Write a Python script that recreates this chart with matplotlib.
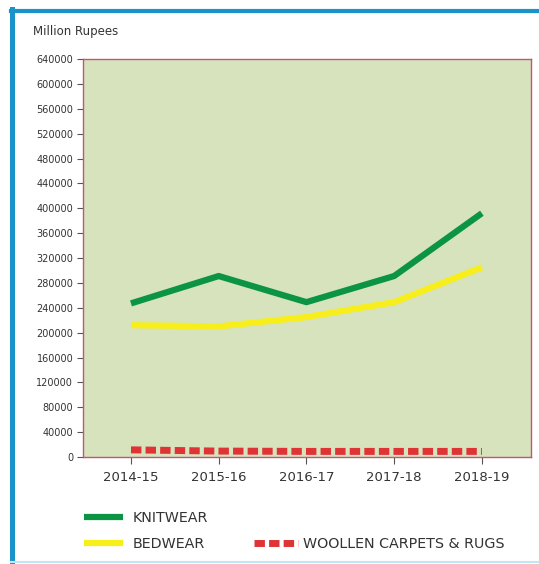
import matplotlib

matplotlib.use("Agg")
import matplotlib.pyplot as plt
from matplotlib.lines import Line2D

plt.rcParams["font.family"] = ["DejaVu Sans"]

years = ["2014-15", "2015-16", "2016-17", "2017-18", "2018-19"]
knitwear = [247000, 291000, 249000, 291000, 392000]
bedwear = [212000, 210000, 225000, 249000, 305000]
carpets = [11500, 9500, 9000, 9000, 9000]
series_names = ["KNITWEAR", "BEDWEAR", "WOOLLEN CARPETS & RUGS"]
y_ticks = list(range(0, 640001, 40000))

GREEN = "#0b9444"
YELLOW = "#f7ee1c"
RED = "#df3336"
TEXT = "#333333"
DASH = (0, (1.5, 0.6))

W, H = 539, 564
fig = plt.figure(figsize=(W / 100, H / 100), dpi=100, facecolor="white")

# outer frame
fig.add_artist(Line2D([12.5 / W, 12.5 / W], [2 / H, 1 - 9 / H], color="#1a93c9", lw=3.6))
fig.add_artist(Line2D([11 / W, 1.0], [1 - 11 / H, 1 - 11 / H], color="#1a93c9", lw=3.0))
fig.add_artist(Line2D([11 / W, 1.0], [2.5 / H, 2.5 / H], color="#bfe8f5", lw=1.5))

ax = fig.add_axes([83 / W, 107 / H, 448 / W, 398 / H])
ax.set_facecolor("#d6e3bc")
for spine in ax.spines.values():
    spine.set_color("#c9527c")
    spine.set_linewidth(1.0)

x = list(range(len(years)))
ax.plot(x, knitwear, color=GREEN, lw=4.5, solid_capstyle="butt", zorder=3)
ax.plot(x, bedwear, color=YELLOW, lw=4.5, solid_capstyle="butt", zorder=2)
ax.plot(x, carpets, color=RED, lw=5, linestyle=DASH, dash_capstyle="butt", zorder=3)

ax.set_xlim(-0.547, 4.56)
ax.set_ylim(0, 640000)
ax.set_xticks(x)
ax.set_xticklabels(years, fontsize=9.5, color=TEXT)
ax.set_yticks(y_ticks)
ax.set_yticklabels([str(v) for v in y_ticks], fontsize=7, color=TEXT)
ax.tick_params(axis="y", length=4, width=0.8, color="#555555", pad=3)
ax.tick_params(axis="x", length=5, width=0.8, color="#555555", pad=5)

fig.text(33 / W, 1 - 32 / H, "Million Rupees", fontsize=8.5, color=TEXT, va="center")

# legend
fig.add_artist(Line2D([84 / W, 123 / W], [1 - 517 / H] * 2, color=GREEN, lw=4.5, solid_capstyle="butt"))
fig.add_artist(Line2D([84 / W, 123 / W], [1 - 543 / H] * 2, color=YELLOW, lw=4.5, solid_capstyle="butt"))
fig.add_artist(Line2D([254 / W, 298 / W], [1 - 543 / H] * 2, color=RED, lw=5,
                      linestyle=DASH, dash_capstyle="butt"))
fig.text(133 / W, 1 - 518 / H, series_names[0], fontsize=10.3, color=TEXT, va="center")
fig.text(133 / W, 1 - 544 / H, series_names[1], fontsize=10.3, color=TEXT, va="center")
fig.text(303 / W, 1 - 544 / H, series_names[2], fontsize=10.3, color=TEXT, va="center")

fig.savefig("out.png", dpi=100, facecolor="white")
